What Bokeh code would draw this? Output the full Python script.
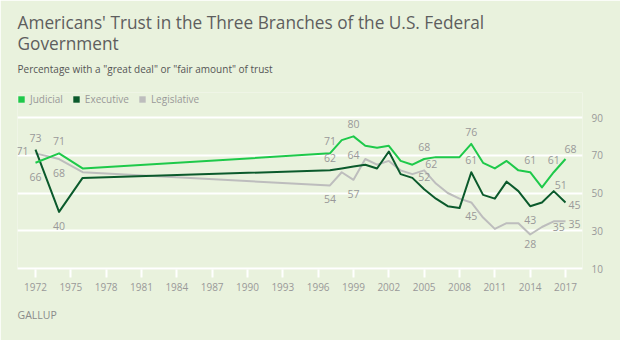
from bokeh.plotting import figure
from bokeh.models import (Range1d, FixedTicker, Title, Legend, LegendItem)
from bokeh.core.properties import value
from bokeh.embed import file_html
from bokeh.resources import INLINE

# ---------------- data ----------------
years = [1972, 1974, 1976, 1997, 1998, 1999, 2000, 2001, 2002, 2003, 2004, 2005,
         2006, 2007, 2008, 2009, 2010, 2011, 2012, 2013, 2014, 2015, 2016, 2017]
judicial = [66, 71, 63, 71, 78, 80, 75, 74, 75, 67, 65, 68,
            69, 69, 69, 76, 66, 63, 67, 62, 61, 53, 61, 68]
executive = [73, 40, 58, 62, 63, 64, 65, 63, 72, 60, 58, 52,
             47, 43, 42, 61, 49, 47, 56, 51, 43, 45, 51, 45]
legislative = [71, 68, 61, 54, 61, 57, 68, 65, 67, 62, 60, 62,
               55, 50, 47, 45, 37, 31, 34, 34, 28, 32, 35, 35]
x_ticks = list(range(1972, 2018, 3))
y_ticks = [10, 30, 50, 70, 90]

series_names = ["Judicial", "Executive", "Legislative"]
series_values = {"Judicial": judicial, "Executive": executive, "Legislative": legislative}

# which points carry a value label, and where (styling only)
labelled = [
    ("Judicial", 1972, "below"), ("Judicial", 1974, "above"), ("Judicial", 1997, "above"),
    ("Judicial", 1999, "above"), ("Judicial", 2005, "above"), ("Judicial", 2009, "above"),
    ("Judicial", 2014, "above"), ("Judicial", 2016, "above"), ("Judicial", 2017, "upright"),
    ("Executive", 1972, "above"), ("Executive", 1974, "below"), ("Executive", 1997, "above"),
    ("Executive", 1999, "above"), ("Executive", 2005, "above"), ("Executive", 2009, "above"),
    ("Executive", 2014, "below"), ("Executive", 2016, "upright_small"), ("Executive", 2017, "right"),
    ("Legislative", 1972, "left"), ("Legislative", 1974, "below"), ("Legislative", 1997, "below"),
    ("Legislative", 1999, "below"), ("Legislative", 2005, "upright_small"),
    ("Legislative", 2009, "below"), ("Legislative", 2014, "below_small"),
    ("Legislative", 2016, "downright"), ("Legislative", 2017, "right"),
]

# ---------------- style ----------------
BG = "#e9f2dd"
COLORS = {"Judicial": "#1ec94a", "Executive": "#0b5a2c", "Legislative": "#bdbdbd"}
FONT = "Open Sans"
LABEL_GRAY = "#999999"
PLACEMENT = {  # x_offset, y_offset, align
    "above": (0, -12, "center"),
    "below": (0, 14, "center"),
    "below_small": (0, 9, "center"),
    "left": (-7, -2, "right"),
    "right": (3, 3, "left"),
    "upright": (5, -10, "center"),
    "upright_small": (7, -6, "center"),
    "downright": (5, 6, "center"),
}

W, H = 620, 340
LEFT, RIGHT, TOP, BOTTOM = 17, 38, 92, 71
px_per_year = 530 / 45.0
px_per_unit = 151 / 80.0
frame_h = H - TOP - BOTTOM

p = figure(width=W, height=H, output_backend="svg", toolbar_location=None,
           x_range=Range1d(1972 - 18 / px_per_year, 2017 + 17 / px_per_year),
           y_range=Range1d(10 - 1 / px_per_unit, 10 - 1 / px_per_unit + frame_h / px_per_unit),
           min_border_left=LEFT, min_border_right=RIGHT, min_border_top=TOP,
           min_border_bottom=BOTTOM, y_axis_location="right")
p.background_fill_color = BG
p.border_fill_color = BG
p.outline_line_color = None

# axes
p.xaxis.ticker = FixedTicker(ticks=x_ticks)
p.xaxis.axis_line_color = None
p.xaxis.major_tick_in = 0
p.xaxis.major_tick_out = 8
p.xaxis.major_tick_line_color = "white"
p.xaxis.major_tick_line_width = 2
p.xaxis.minor_tick_line_color = None
p.xaxis.major_label_standoff = 5
p.xaxis.major_label_text_font = FONT
p.xaxis.major_label_text_font_size = "10px"
p.xaxis.major_label_text_color = LABEL_GRAY

p.yaxis.ticker = FixedTicker(ticks=y_ticks)
p.yaxis.axis_line_color = None
p.yaxis.major_tick_line_color = None
p.yaxis.minor_tick_line_color = None
p.yaxis.major_label_standoff = 3
p.yaxis.major_label_text_font = FONT
p.yaxis.major_label_text_font_size = "10px"
p.yaxis.major_label_text_color = LABEL_GRAY

p.xgrid.grid_line_color = None
p.ygrid.ticker = FixedTicker(ticks=y_ticks)
p.ygrid.grid_line_color = "white"
p.ygrid.grid_line_width = 2

# lines (legislative underneath)
for name in ["Legislative", "Executive", "Judicial"]:
    p.line(years, series_values[name], line_color=COLORS[name], line_width=2,
           line_join="round")

# value labels
for name, yr, where in labelled:
    i = years.index(yr)
    dx, dy, align = PLACEMENT[where]
    p.text(x=[yr], y=[series_values[name][i]], text=[str(series_values[name][i])],
           x_offset=dx, y_offset=dy, text_align=align, text_baseline="middle",
           text_font=value(FONT), text_font_size="10.5px", text_color=LABEL_GRAY)

# legend with square swatches (zero-area quads on the data, only used for the legend)
items = []
for name in series_names:
    vals = series_values[name]
    r = p.quad(left=years, right=years, top=vals, bottom=vals,
               fill_color=COLORS[name], line_color=None)
    items.append(LegendItem(label=name, renderers=[r]))
legend = Legend(items=items, location="top_left", orientation="horizontal",
                margin=0, padding=0, spacing=9, label_standoff=5,
                glyph_width=8, glyph_height=8, label_height=13,
                label_text_font=FONT, label_text_font_size="10px",
                label_text_color=LABEL_GRAY, border_line_color=None,
                background_fill_alpha=0)
p.add_layout(legend)

# titles: added nearest-to-frame first
p.title = None
p.add_layout(Title(text='Percentage with a "great deal" or "fair amount" of trust',
                   align="left", text_font=FONT, text_font_size="10px",
                   text_font_style="normal", text_color="#555555", standoff=33), "above")
p.add_layout(Title(text="Government", align="left", text_font=FONT,
                   text_font_size="17.25px", text_font_style="normal",
                   text_color="#5e5e5e", standoff=-23), "above")
p.add_layout(Title(text="Americans' Trust in the Three Branches of the U.S. Federal",
                   align="left", text_font=FONT, text_font_size="17.25px",
                   text_font_style="normal", text_color="#5e5e5e", standoff=16), "above")
p.add_layout(Title(text="GALLUP", align="left", text_font=FONT, text_font_size="10.5px",
                   text_font_style="normal", text_color="#8a8a8a", standoff=24), "below")

open("out.html", "w").write(file_html(p, INLINE))
